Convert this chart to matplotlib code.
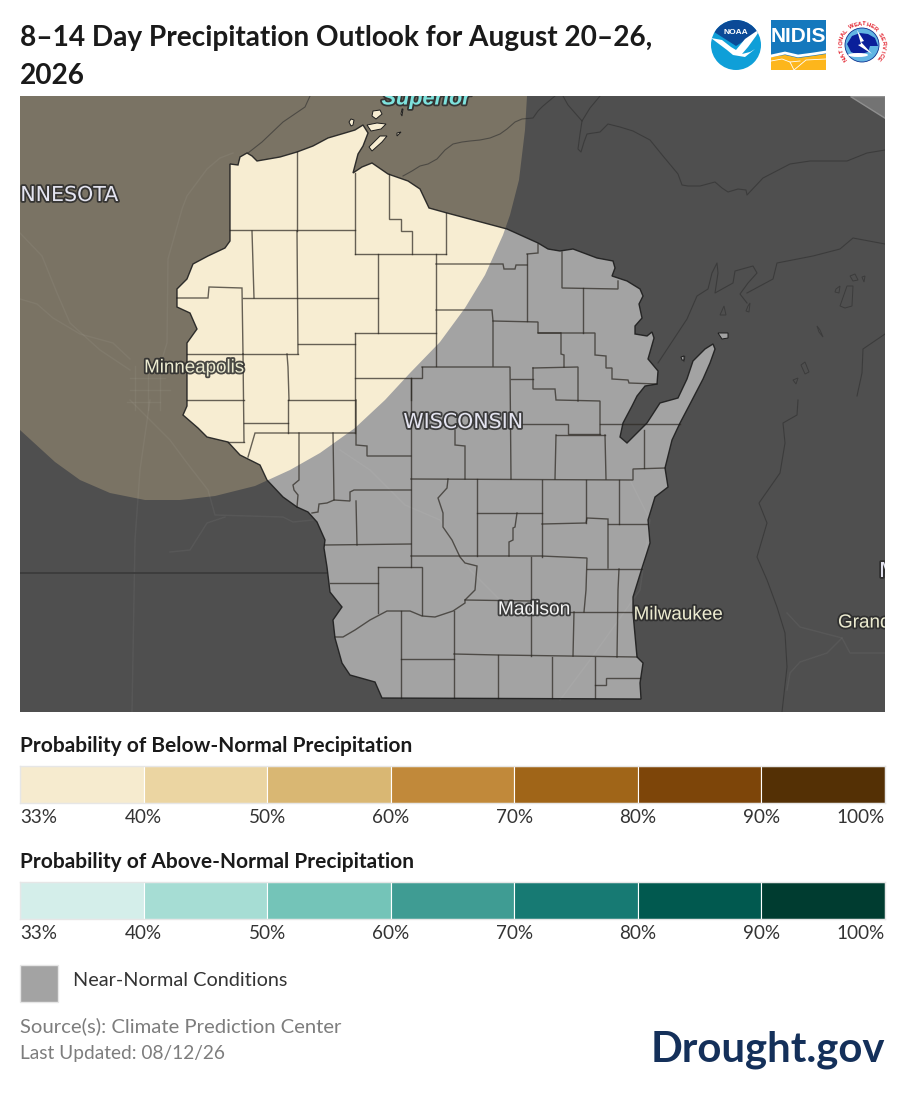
"""
8-14 day precipitation outlook card for Wisconsin (Drought.gov style).
Map shapes are traced from the picture, in map pixels.
"""
import matplotlib
matplotlib.use('Agg')
import matplotlib.pyplot as plt
import matplotlib.patheffects as pe
from matplotlib.patches import Polygon, Circle, Rectangle, Ellipse
import numpy as np

W, H = 905, 1104

TITLE = '8–14 Day Precipitation Outlook for August 20–26,\n2026'
BELOW_TITLE = 'Probability of Below-Normal Precipitation'
ABOVE_TITLE = 'Probability of Above-Normal Precipitation'
TICK_LABELS = ['33%', '40%', '50%', '60%', '70%', '80%', '90%', '100%']
BELOW_COLORS = ['#f6ebcf', '#ebd5a2', '#d9b773', '#c1893a', '#a06518', '#7d4509', '#543005']
ABOVE_COLORS = ['#d4eeea', '#a6ddd4', '#74c4b8', '#3f9c93', '#177a73', '#01594f', '#003c30']

DARK_BG = '#4f4f4f'
TAN_OUT = '#7a7364'
CREAM = '#f7edd2'
NEAR_NORMAL = '#a3a3a3'

WI_OUTLINE = [
    (230, 164), (238, 165), (240, 157), (247, 153), (252, 156), (257, 161), (280, 157),
    (297, 152), (313, 146), (328, 138), (345, 133), (355, 130), (363, 125), (368, 133),
    (363, 146), (358, 154), (353, 173), (362, 167), (372, 163), (388, 174), (408, 181),
    (420, 189), (429, 208), (447, 213), (507, 229), (538, 243), (548, 249), (560, 251),
    (573, 249), (597, 258), (613, 261), (615, 268), (612, 276), (627, 281), (640, 289),
    (643, 296), (639, 304), (642, 318), (635, 326), (635, 334), (647, 336), (652, 332),
    (654, 338), (648, 359), (658, 371), (657, 384), (645, 386), (637, 396), (632, 406),
    (623, 423), (620, 437), (627, 443), (635, 435), (647, 423), (660, 403), (678, 398),
    (687, 379), (693, 361), (705, 349), (713, 344), (715, 349), (710, 363), (703, 379),
    (690, 404), (680, 423), (672, 440), (665, 468), (668, 487), (655, 497), (648, 520),
    (650, 543), (642, 568), (633, 597), (633, 613), (637, 657), (643, 663), (640, 683),
    (641, 699), (382, 698), (375, 682), (350, 675), (342, 663), (335, 638), (333, 620),
    (342, 607), (330, 592), (327, 567), (324, 548), (325, 540), (317, 522), (308, 512),
    (297, 507), (283, 497), (267, 480), (260, 465), (240, 455), (228, 442), (207, 437),
    (198, 428), (183, 415), (187, 406), (187, 343), (197, 329), (190, 313), (177, 307),
    (177, 289), (187, 279), (193, 264), (208, 256), (225, 248), (230, 241),
]

APOSTLE_ISLANDS = [
    [(351, 119), (354, 120), (353, 125), (351, 126), (349, 122)],
    [(367, 125), (377, 123), (386, 124), (381, 129), (371, 131)],
    [(373, 111), (380, 110), (382, 114), (376, 119), (372, 116)],
    [(369, 147), (375, 141), (380, 136), (387, 136), (382, 142), (372, 151)],
    [(397, 133), (401, 132), (397, 136)],
    [(401, 114), (402, 109), (403, 109), (402, 116)],
]
DOOR_ISLANDS = [
    [(718, 333), (728, 333), (728, 338), (722, 339)],
    [(681, 357), (684, 356), (684, 360), (682, 360)],
]

# below-normal area, from the top edge of the map round to its left edge
TAN_REGION = [
    (20, 96), (527, 96), (525, 130), (519, 180), (510, 215), (503, 235), (485, 275),
    (465, 308), (440, 342), (410, 373), (385, 400), (355, 428), (320, 453), (290, 470),
    (255, 486), (215, 496), (180, 500), (145, 500), (110, 493), (80, 480), (55, 462),
    (20, 430),
]

COUNTY_LINES = [
    [(297, 152), (297, 231)], [(230, 230), (355, 230)], [(355, 173), (355, 254)],
    [(355, 254), (446, 254)], [(389, 174), (389, 219), (401, 219), (401, 231), (412, 231), (412, 254)],
    [(446, 213), (446, 254)], [(252, 231), (254, 298)], [(297, 231), (298, 354)],
    [(177, 298), (208, 298), (209, 287), (242, 288), (243, 354)], [(243, 298), (378, 298)],
    [(378, 254), (378, 333)], [(355, 333), (436, 333)], [(355, 333), (355, 433)],
    [(298, 344), (355, 344)], [(187, 354), (298, 354)], [(287, 354), (288, 367), (289, 400)],
    [(243, 354), (244, 442)], [(355, 378), (422, 378), (422, 367)], [(187, 400), (244, 400)],
    [(288, 400), (355, 400)], [(411, 378), (411, 400)],
    [(436, 254), (436, 366)], [(436, 264), (503, 264), (504, 269), (515, 269), (516, 265), (527, 265)],
    [(527, 254), (527, 321)], [(527, 254), (538, 253), (538, 244)],
    [(436, 310), (492, 310), (493, 321), (493, 366)],
    [(493, 321), (538, 322), (538, 333), (560, 333)],
    [(562, 252), (562, 288), (618, 289), (618, 281)], [(583, 288), (583, 333)],
    [(538, 333), (595, 333), (595, 355), (606, 356), (606, 368), (612, 368), (612, 379),
     (628, 380), (629, 383), (657, 384)],
    [(561, 333), (561, 354), (564, 355), (564, 367)],
    [(422, 367), (510, 367), (511, 479)], [(533, 368), (578, 367), (578, 401)],
    [(533, 368), (533, 389), (555, 389), (556, 400), (600, 401), (600, 434)],
    [(511, 379), (533, 379)],
    [(244, 423), (288, 423)], [(288, 400), (288, 433)], [(228, 442), (244, 442)],
    [(248, 457), (255, 433), (355, 433)],
    [(356, 400), (356, 445), (367, 446), (367, 456), (411, 456)],
    [(411, 378), (411, 567)],
    [(299, 433), (299, 480), (293, 485), (294, 490), (298, 495), (297, 507)],
    [(333, 433), (334, 500), (350, 501), (350, 492), (354, 490), (411, 490)],
    [(312, 513), (318, 512), (319, 504), (327, 503), (334, 500)],
    [(356, 501), (357, 545)], [(325, 545), (411, 544)], [(330, 583), (378, 583)],
    [(378, 567), (422, 567), (422, 615)], [(378, 567), (378, 613)],
    [(411, 556), (541, 556), (587, 558), (586, 590), (584, 612)],
    [(335, 637), (343, 637), (355, 630), (370, 620), (387, 611), (410, 611), (422, 616),
     (435, 617), (453, 611), (465, 603), (465, 600), (475, 590), (477, 566), (465, 563),
     (460, 557), (452, 540), (443, 527), (443, 513), (438, 498), (447, 488), (448, 479)],
    [(411, 479), (633, 480), (633, 469), (665, 468)],
    [(455, 430), (455, 445), (465, 446), (465, 479)],
    [(477, 479), (477, 556)], [(477, 513), (542, 513)],
    [(517, 513), (515, 527), (513, 528), (513, 540), (509, 542), (509, 556)],
    [(465, 600), (531, 601)], [(401, 611), (401, 698)], [(454, 611), (454, 698)],
    [(401, 659), (454, 659)], [(454, 654), (498, 655), (637, 657)], [(498, 655), (498, 698)],
    [(511, 424), (568, 424), (568, 434), (600, 434)],
    [(556, 435), (605, 435)], [(556, 435), (555, 479)], [(605, 435), (606, 479)],
    [(600, 424), (680, 424)], [(644, 430), (644, 468)],
    [(542, 480), (542, 557)], [(586, 480), (586, 523)], [(619, 480), (619, 524)],
    [(542, 524), (586, 523), (587, 518), (608, 519), (608, 568)],
    [(608, 524), (647, 524)], [(587, 569), (642, 569)],
    [(619, 569), (618, 590), (617, 657)], [(570, 612), (633, 612)],
    [(574, 612), (573, 656)], [(531, 557), (531, 656)],
    [(552, 657), (552, 698)], [(595, 657), (595, 698)],
    [(595, 685), (606, 685), (606, 678), (640, 678)],
]

# shorelines outside Wisconsin
COAST_LINES = [
    [(403, 176), (412, 171), (420, 166), (428, 164), (437, 159), (445, 150), (453, 144), (462, 142),
     (470, 141), (480, 140), (490, 138), (500, 134), (507, 129), (515, 122), (522, 119), (533, 118),
     (538, 111), (543, 106), (555, 96)],
    [(248, 153), (262, 142), (283, 122), (305, 107), (310, 96)],
    [(563, 96), (568, 105), (582, 121), (580, 134), (578, 149), (581, 152), (584, 142), (587, 134),
     (600, 132), (608, 124), (620, 127), (633, 131), (650, 140), (663, 156), (678, 174), (682, 185),
     (688, 186), (700, 186), (715, 182), (722, 188), (728, 192), (738, 189), (746, 190), (747, 195),
     (763, 178), (790, 164), (810, 161), (847, 161), (867, 153), (885, 150)],
    [(582, 121), (590, 108), (600, 96)],
    [(658, 363), (687, 319), (697, 296), (708, 289), (712, 273), (717, 263), (718, 273),
     (715, 293), (733, 283), (735, 271), (753, 266), (757, 273), (748, 283), (740, 294),
     (747, 303)],
    [(747, 293), (773, 279), (777, 263), (813, 256), (840, 249), (853, 238), (885, 244)],
    [(885, 334), (863, 349), (862, 373), (857, 396)],
    [(798, 400), (797, 415), (783, 423), (785, 443), (780, 473), (759, 503), (767, 523),
     (757, 557), (767, 580), (777, 607), (785, 633), (787, 667), (782, 712)],
]
LAKE_ISLANDS = [
    [(840, 306), (847, 286), (853, 286), (852, 306), (845, 308)],
    [(836, 289), (840, 286), (839, 293), (835, 292)],
    [(850, 276), (855, 274), (858, 280), (853, 281)],
    [(862, 277), (865, 276), (864, 282)],
    [(817, 326), (820, 330), (823, 337), (819, 332)],
    [(801, 365), (805, 362), (809, 372), (805, 374)],
    [(793, 380), (798, 378), (796, 384)],
    [(682, 357), (685, 356), (684, 362)],
    [(720, 315), (724, 306), (726, 315)],
    [(748, 306), (750, 303), (749, 312), (746, 311)],
]

# faint roads
ROADS = [
    [(233, 153), (220, 158), (207, 169), (187, 196), (182, 209), (168, 259), (167, 343), (163, 356)],
    [(20, 233), (42, 256), (57, 293), (70, 323), (100, 350), (130, 370)],
    [(20, 299), (37, 304), (53, 318), (80, 334), (113, 343), (130, 359)],
    [(130, 400), (170, 440), (187, 463), (208, 490), (215, 515), (283, 517), (293, 522), (313, 520)],
    [(225, 517), (207, 523), (190, 550), (170, 552)],
    [(150, 400), (140, 470), (135, 540), (132, 712)],
    [(787, 613), (800, 627), (842, 638), (850, 653), (885, 653)],
    [(842, 638), (827, 653), (800, 662), (790, 673), (787, 690)],
    [(340, 450), (370, 470), (405, 505), (440, 520), (470, 570), (500, 600)],
    [(560, 700), (590, 660), (640, 590), (650, 520), (630, 480)],
]
CITY_GRID = [
    [(130, 378), (165, 378)], [(130, 390), (170, 390)], [(127, 402), (160, 402)],
    [(135, 366), (135, 410)], [(148, 366), (148, 410)], [(160, 372), (160, 410)],
]

BORDER_MN_IA = [(20, 573), (327, 573)]
MAP_LABELS = [
    ('Minneapolis', 194, 368, '#ecebd0', 13.5),
    ('Madison', 534, 610, '#f3f3f3', 13.8),
    ('Milwaukee', 678, 615, '#ecebd0', 13.6),
]


def px_axes(fig, x0, y0, x1, y1):
    return fig.add_axes([x0 / W, 1 - y1 / H, (x1 - x0) / W, (y1 - y0) / H])


def draw_map(fig):
    ax = px_axes(fig, 20, 96, 885, 712)
    ax.set_xlim(20, 885)
    ax.set_ylim(712, 96)
    ax.axis('off')
    ax.add_patch(Rectangle((20, 96), 865, 616, fc=DARK_BG, ec='none', zorder=0))
    ax.add_patch(Polygon([(850, 96), (885, 96), (885, 118)], fc='#737373', ec='#8f8f8f', lw=1, zorder=0.5))

    ax.add_patch(Polygon(TAN_REGION, fc=TAN_OUT, ec='none', zorder=1))

    for line in ROADS + CITY_GRID:
        xs, ys = zip(*line)
        ax.plot(xs, ys, color='#ffffff', alpha=0.05, lw=1.0, zorder=1.5)

    for line in COAST_LINES:
        xs, ys = zip(*line)
        ax.plot(xs, ys, color='#2f2f2f', alpha=0.6, lw=0.8, zorder=2)
    for isl in LAKE_ISLANDS:
        ax.add_patch(Polygon(isl, fc='none', ec='#2f2f2f', lw=0.7, alpha=0.6, zorder=2))
    ax.plot(*zip(*BORDER_MN_IA), color='#3a3a3a', lw=1.2, zorder=2)

    wi = Polygon(WI_OUTLINE, fc=NEAR_NORMAL, ec='none', zorder=3)
    ax.add_patch(wi)
    cream = Polygon(TAN_REGION, fc=CREAM, ec='none', zorder=3.2)
    ax.add_patch(cream)
    cream.set_clip_path(wi)

    for line in ROADS[-2:]:
        xs, ys = zip(*line)
        r, = ax.plot(xs, ys, color='#ffffff', alpha=0.05, lw=1, zorder=3.3)
        r.set_clip_path(wi)

    for line in COUNTY_LINES:
        xs, ys = zip(*line)
        ax.plot(xs, ys, color='#2e2a24', alpha=0.72, lw=1.0, zorder=3.5, solid_joinstyle='miter')

    ax.add_patch(Polygon(WI_OUTLINE, fc='none', ec='#1d1d1d', lw=1.0, alpha=0.9, zorder=4))
    for isl in APOSTLE_ISLANDS:
        ax.add_patch(Polygon(isl, fc=CREAM, ec='#1d1d1d', lw=0.7, zorder=4))
    for isl in DOOR_ISLANDS:
        ax.add_patch(Polygon(isl, fc=NEAR_NORMAL, ec='#1d1d1d', lw=0.7, zorder=4))

    halo = [pe.withStroke(linewidth=2.6, foreground='#2b2b2b', alpha=0.85)]
    for txt, x, y, col, size in MAP_LABELS:
        ax.text(x, y, txt, color=col, fontsize=size, ha='center', va='center',
                family='Liberation Sans', path_effects=halo, clip_on=True, zorder=6)
    ax.text(426, 99, 'Superior', color='#7fe3de', fontsize=15.6, style='italic', fontweight='bold',
            ha='center', va='center', family='Liberation Sans', path_effects=halo, clip_on=True, zorder=6)
    # upper-case state names are letter-spaced in the picture, DejaVu is the wider face
    ax.text(463, 422, 'WISCONSIN', color='#e4e4f0', fontsize=14.8, ha='center', va='center',
            family='DejaVu Sans', path_effects=halo, clip_on=True, zorder=6)
    ax.text(118, 195, 'MINNESOTA', color='#e4e4f0', fontsize=14.8, ha='right', va='center',
            family='DejaVu Sans', path_effects=halo, clip_on=True, zorder=6)
    ax.text(838, 623, 'Grand', color='#ecebd0', fontsize=13.6, ha='left', va='center',
            family='Liberation Sans', path_effects=halo, clip_on=True, zorder=6)
    ax.text(879, 571, 'M', color='#e4e4f0', fontsize=14.8, ha='left', va='center',
            family='DejaVu Sans', path_effects=halo, clip_on=True, zorder=6)


def draw_scale(fig, y_top, y_bot, colors):
    ax = px_axes(fig, 20, y_top, 885, y_bot)
    x = np.arange(len(colors))
    ax.bar(x, np.ones(len(colors)), width=1, align='edge', color=colors, edgecolor='#ffffff', linewidth=0.8)
    ax.set_xlim(0, len(colors))
    ax.set_ylim(0, 1)
    for s in ax.spines.values():
        s.set_color('#e6e6e6')
        s.set_linewidth(1)
    ax.set_yticks([])
    ax.set_xticks(np.arange(len(TICK_LABELS)))
    ax.set_xticklabels(TICK_LABELS, fontsize=13.6, color='#333333', family='Lato')
    ax.tick_params(axis='x', length=0, pad=4.5)
    labels = ax.get_xticklabels()
    labels[0].set_ha('left')
    labels[-1].set_ha('right')


def draw_noaa(ax):
    cx, cy, r = 736, 45, 25
    disc = Circle((cx, cy), r, fc='#0f9fd8', ec='none')
    ax.add_patch(disc)
    top = Polygon([(711, 20), (761, 20), (761, 30), (736, 46), (711, 30)], fc='#0b4a97', ec='none')
    ax.add_patch(top)
    top.set_clip_path(disc)
    bird = Polygon([(711, 38), (722, 40), (731, 47), (736, 50), (745, 39), (761, 28), (756, 36),
                    (748, 47), (742, 54), (750, 52), (755, 49), (745, 57), (733, 55), (727, 50)],
                   fc='white', ec='none')
    ax.add_patch(bird)
    bird.set_clip_path(disc)
    ax.text(736, 33, 'NOAA', color='white', fontsize=6, fontweight='bold', ha='center', va='center',
            family='Liberation Sans')


def draw_nidis(ax):
    ax.add_patch(Rectangle((771, 20), 55, 50, fc='#1478bd', ec='none'))
    ax.add_patch(Polygon([(771, 57), (785, 55), (798, 58), (813, 56), (826, 54), (826, 70), (771, 70)],
                         fc='#fdb61c', ec='none'))
    ax.plot([771, 785, 798, 813, 826], [56, 53, 56, 54, 52], color='white', lw=2)
    ax.plot([771, 782, 790, 794, 806, 826], [61, 59, 62, 70, 60, 59], color='white', lw=0.6)
    ax.plot([790, 800], [62, 61], color='white', lw=0.6)
    ax.text(798.5, 37, 'NIDIS', color='white', fontsize=15, fontweight='bold', ha='center', va='center',
            family='Liberation Sans')


def draw_nws(ax):
    cx, cy = 862, 45
    ax.add_patch(Circle((cx, cy), 24, fc='white', ec='none'))
    disc = Circle((cx, cy), 17, fc='#62b5e3', ec='#0b2f8f', lw=0.6)
    ax.add_patch(disc)
    blob = Polygon([(847, 44), (852, 36), (860, 33), (868, 34), (875, 38), (878, 46), (870, 46),
                    (868, 52), (858, 55), (851, 52)], fc='#0a1f9a', ec='none')
    ax.add_patch(blob)
    blob.set_clip_path(disc)
    ax.add_patch(Polygon([(857, 30), (864, 41), (861, 42), (872, 54), (858, 45), (861, 44)], fc='white', ec='none'))
    ax.add_patch(Ellipse((858, 55), 20, 4, fc='white', ec='none'))
    text = 'NATIONAL WEATHER SERVICE'
    angles = np.linspace(218, -38, len(text))
    for ch, a in zip(text, angles):
        t = np.radians(a)
        ax.text(cx + 21 * np.cos(t), cy - 21 * np.sin(t), ch, rotation=a - 90, rotation_mode='anchor',
                color='#e2202c', fontsize=4.2, fontweight='bold', ha='center', va='center',
                family='Liberation Sans')


def main():
    plt.rcParams['font.family'] = ['Lato', 'DejaVu Sans']
    fig = plt.figure(figsize=(W / 100, H / 100), dpi=100, facecolor='white')

    page = px_axes(fig, 0, 0, W, H)
    page.set_xlim(0, W)
    page.set_ylim(H, 0)
    page.axis('off')

    page.text(20, 38, TITLE.split('\n')[0], fontsize=20.15, fontweight='bold', color='#1a1a1a', va='center')
    page.text(20, 76, TITLE.split('\n')[1], fontsize=20.15, fontweight='bold', color='#1a1a1a', va='center')
    draw_noaa(page)
    draw_nidis(page)
    draw_nws(page)

    draw_map(fig)

    page.text(20, 745.5, BELOW_TITLE, fontsize=15, fontweight='bold', color='#1a1a1a', va='center')
    draw_scale(fig, 766, 803, BELOW_COLORS)
    page.text(20, 861.5, ABOVE_TITLE, fontsize=15, fontweight='bold', color='#1a1a1a', va='center')
    draw_scale(fig, 882, 919, ABOVE_COLORS)

    page.add_patch(Rectangle((20, 965), 38, 37, fc=NEAR_NORMAL, ec='#e6e6e6', lw=1))
    page.text(73, 981, 'Near-Normal Conditions', fontsize=14.3, color='#333333', va='center')
    page.text(20, 1026, 'Source(s): Climate Prediction Center', fontsize=14.6, color='#7d7d7d', va='center')
    page.text(20, 1054, 'Last Updated: 08/12/26', fontsize=13.8, color='#7d7d7d', va='center')
    page.text(885, 1050, 'Drought.gov', fontsize=30.2, fontweight='bold', color='#14305a', ha='right', va='center')

    fig.savefig('out.png', dpi=100, facecolor='white')


if __name__ == '__main__':
    main()
